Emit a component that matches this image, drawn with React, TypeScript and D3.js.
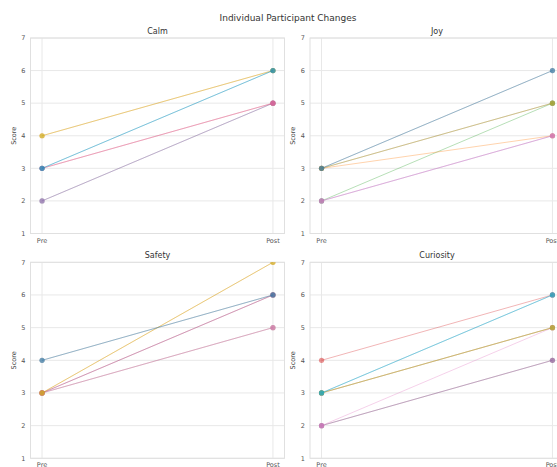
import * as d3 from 'd3';

const WIDTH = 557;
const HEIGHT = 467;

const TITLE = 'Individual Participant Changes';
const PHASES = ['Pre', 'Post'];
const Y_TICKS = [1, 2, 3, 4, 5, 6, 7];

// participant ids index into the category10 palette
const calmIds = [7, 4, 3, 6, 1, 8, 9, 0];
const calmPre = [2, 2, 3, 3, 4, 4, 3, 3];
const calmPost = [5, 5, 5, 5, 6, 6, 6, 6];

const joyIds = [2, 1, 4, 6, 5, 8, 7, 0];
const joyPre = [2, 3, 2, 2, 3, 3, 3, 3];
const joyPost = [5, 4, 4, 4, 5, 5, 6, 6];

const safetyIds = [3, 4, 5, 6, 1, 8, 7, 0];
const safetyPre = [3, 3, 3, 3, 3, 3, 4, 4];
const safetyPost = [6, 6, 5, 5, 7, 7, 6, 6];

const curiosityIds = [3, 5, 4, 6, 1, 7, 8, 0, 9];
const curiosityPre = [4, 2, 2, 2, 3, 3, 3, 3, 3];
const curiosityPost = [6, 4, 4, 5, 5, 5, 5, 6, 6];

const PANELS = [
  { title: 'Calm', ids: calmIds, pre: calmPre, post: calmPost, x0: 30.5, x1: 284.5, y0: 38, y1: 233.5 },
  { title: 'Joy', ids: joyIds, pre: joyPre, post: joyPost, x0: 310, x1: 564, y0: 38, y1: 233.5 },
  { title: 'Safety', ids: safetyIds, pre: safetyPre, post: safetyPost, x0: 30.5, x1: 284.5, y0: 262.3, y1: 458.3 },
  { title: 'Curiosity', ids: curiosityIds, pre: curiosityPre, post: curiosityPost, x0: 310, x1: 564, y0: 262.3, y1: 458.3 },
];

const FONT = 'DejaVu Sans, sans-serif';
const color = (i: number) => d3.schemeCategory10[i % 10];

function Panel({ p }: { p: (typeof PANELS)[number] }) {
  const x = d3.scalePoint<string>().domain(PHASES).range([p.x0, p.x1]).padding(0.05);
  const y = d3.scaleLinear().domain([1, 7]).range([p.y1, p.y0]);
  const line = d3
    .line<[string, number]>()
    .x((d) => x(d[0]) as number)
    .y((d) => y(d[1]));
  const midY = (p.y0 + p.y1) / 2;

  return (
    <g>
      <clipPath id={`clip-${p.title}`}>
        <rect x={p.x0} y={p.y0} width={p.x1 - p.x0} height={p.y1 - p.y0} />
      </clipPath>
      {Y_TICKS.map((t) => (
        <g key={t}>
          <line x1={p.x0} x2={p.x1} y1={y(t)} y2={y(t)} stroke="#e8e8e8" strokeWidth={1} />
          <text x={p.x0 - 5} y={y(t)} dy="0.35em" textAnchor="end" fontSize={6.5} fill="#555" fontFamily={FONT}>
            {t}
          </text>
        </g>
      ))}
      {PHASES.map((ph) => (
        <g key={ph}>
          <line x1={x(ph)} x2={x(ph)} y1={p.y0} y2={p.y1} stroke="#e8e8e8" strokeWidth={1} />
          <text x={x(ph)} y={p.y1 + 9} textAnchor="middle" fontSize={6.5} fill="#555" fontFamily={FONT}>
            {ph}
          </text>
        </g>
      ))}
      <rect x={p.x0} y={p.y0} width={p.x1 - p.x0} height={p.y1 - p.y0} fill="none" stroke="#e0e0e0" strokeWidth={1} />
      <g clipPath={`url(#clip-${p.title})`}>
        {p.ids.map((id, i) => (
          <g key={i}>
            <path
              d={line([
                ['Pre', p.pre[i]],
                ['Post', p.post[i]],
              ]) as string}
              fill="none"
              stroke={color(id)}
              strokeOpacity={0.36}
              strokeWidth={0.95}
            />
            <circle cx={x('Pre')} cy={y(p.pre[i])} r={2.6} fill={color(id)} fillOpacity={0.5} />
            <circle cx={x('Post')} cy={y(p.post[i])} r={2.6} fill={color(id)} fillOpacity={0.5} />
          </g>
        ))}
      </g>
      <text x={(p.x0 + p.x1) / 2} y={p.y0 - 4} textAnchor="middle" fontSize={8} fill="#333" fontFamily={FONT}>
        {p.title}
      </text>
      <text
        transform={`translate(${p.x0 - 15},${midY}) rotate(-90)`}
        textAnchor="middle"
        fontSize={6.5}
        fill="#444"
        fontFamily={FONT}
      >
        Score
      </text>
    </g>
  );
}

export default function App() {
  return (
    <svg
      width={WIDTH}
      height={HEIGHT}
      style={{ position: 'absolute', left: 0, top: 0, background: '#fff' }}
    >
      <rect width={WIDTH} height={HEIGHT} fill="#fff" />
      <text x={288} y={21} textAnchor="middle" fontSize={9} fill="#333" fontFamily={FONT}>
        {TITLE}
      </text>
      {PANELS.map((p) => (
        <Panel key={p.title} p={p} />
      ))}
    </svg>
  );
}
